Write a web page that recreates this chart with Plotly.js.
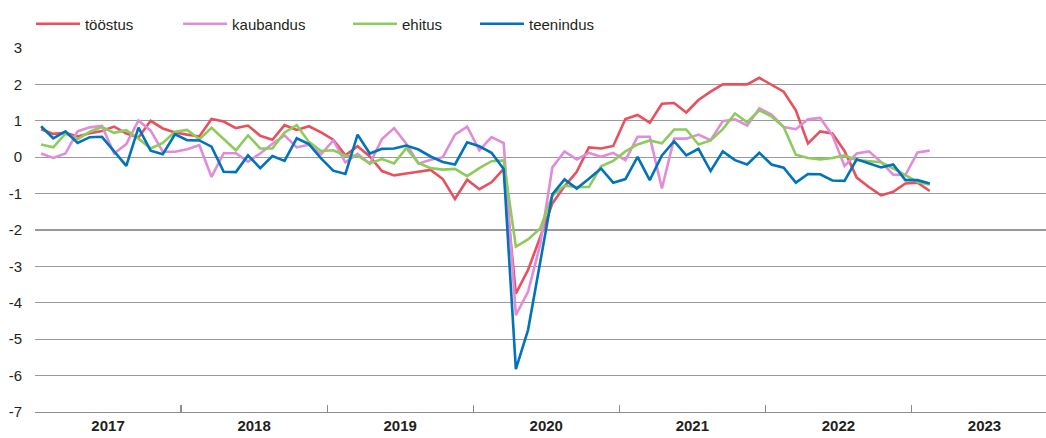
<!DOCTYPE html>
<html>
<head>
<meta charset="utf-8">
<script src="https://cdn.plot.ly/plotly-3.0.1.min.js"></script>
<style>
  html, body { margin: 0; padding: 0; background: #fff; }
  #chart { width: 1046px; height: 438px; }
</style>
</head>
<body>
<div id="chart"></div>
<script>
// Years shown on the x axis (each year = 12 monthly slots)
const years = ["2017", "2018", "2019", "2020", "2021", "2022", "2023"];

// Y tick values and labels (hyphen-minus as in the original)
const yTickVals = [3, 2, 1, 0, -1, -2, -3, -4, -5, -6, -7];
const yTickText = ["3", "2", "1", "0", "-1", "-2", "-3", "-4", "-5", "-6", "-7"];

// Series names
const seriesNames = ["tööstus", "kaubandus", "ehitus", "teenindus"];

// Monthly values, Jan 2017 – Feb 2023
const tooestus = [0.77,0.64,0.67,0.57,0.66,0.72,0.84,0.65,0.54,1.0,0.79,0.68,
  0.62,0.57,1.05,0.98,0.8,0.87,0.59,0.48,0.88,0.75,0.85,0.68,
  0.48,0.05,0.3,0.02,-0.38,-0.5,-0.45,-0.41,-0.35,-0.6,-1.15,-0.62,
  -0.88,-0.69,-0.32,-3.75,-3.1,-2.2,-1.27,-0.8,-0.4,0.27,0.24,0.31,
  1.05,1.16,0.95,1.47,1.49,1.23,1.57,1.8,2.0,2.0,2.0,2.18,
  2.0,1.8,1.29,0.38,0.71,0.65,0.17,-0.56,-0.82,-1.05,-0.95,-0.72,
  -0.7,-0.93];

const kaubandus = [0.1,-0.02,0.1,0.71,0.82,0.86,0.1,0.36,1.01,0.73,0.15,0.15,
  0.22,0.33,-0.54,0.11,0.11,-0.12,0.1,0.37,0.6,0.27,0.34,0.08,
  0.46,-0.14,0.09,-0.18,0.5,0.8,0.37,-0.18,-0.07,0.0,0.62,0.84,
  0.19,0.55,0.39,-4.34,-3.7,-2.4,-0.28,0.16,-0.06,0.12,0.01,0.12,
  -0.08,0.56,0.56,-0.86,0.51,0.51,0.62,0.47,0.99,1.04,0.87,1.34,
  1.17,0.83,0.77,1.04,1.08,0.6,-0.24,0.1,0.16,-0.13,-0.48,-0.49,
  0.13,0.18];

const ehitus = [0.35,0.27,0.65,0.49,0.7,0.83,0.67,0.74,0.51,0.24,0.39,0.7,
  0.75,0.49,0.81,0.51,0.19,0.6,0.24,0.24,0.68,0.88,0.42,0.17,
  0.19,0.04,0.04,-0.17,-0.05,-0.17,0.25,-0.16,-0.3,-0.34,-0.32,-0.52,
  -0.3,-0.11,-0.09,-2.46,-2.26,-1.96,-1.05,-0.78,-0.82,-0.82,-0.25,-0.1,
  0.16,0.35,0.46,0.38,0.76,0.76,0.35,0.46,0.77,1.2,0.96,1.29,
  1.12,0.83,0.07,-0.02,-0.06,-0.02,0.05,-0.08,-0.1,-0.14,-0.31,-0.49,
  -0.68,-0.75];

const teenindus = [0.85,0.52,0.71,0.39,0.55,0.56,0.16,-0.24,0.81,0.18,0.08,0.63,
  0.47,0.46,0.29,-0.4,-0.41,0.05,-0.3,0.03,-0.1,0.52,0.36,-0.03,
  -0.37,-0.46,0.62,0.1,0.23,0.24,0.32,0.21,0.02,-0.13,-0.2,0.41,
  0.3,0.12,-0.32,-5.82,-4.75,-2.9,-1.02,-0.61,-0.86,-0.59,-0.31,-0.7,
  -0.6,0.01,-0.63,0.05,0.44,0.05,0.23,-0.38,0.16,-0.08,-0.2,0.12,
  -0.2,-0.29,-0.7,-0.46,-0.47,-0.64,-0.65,-0.06,-0.17,-0.28,-0.2,-0.63,
  -0.63,-0.72];

const colors = ["#E8505E", "#E08CD8", "#8DCB5C", "#0073BA"];
const seriesValues = [tooestus, kaubandus, ehitus, teenindus];

// month slot index (0 = Jan 2017)
const monthIndex = tooestus.map((_, i) => i);

const legendIds = ["legend", "legend2", "legend3", "legend4"];
const legendX = [-0.004, 0.1415, 0.3096, 0.4352];

const traces = seriesValues.map((vals, k) => ({
  type: "scatter",
  mode: "lines",
  name: seriesNames[k],
  legend: legendIds[k],
  x: monthIndex,
  y: vals,
  line: { color: colors[k], width: 2.6 },
  hoverinfo: "skip"
}));

// invisible trace on xaxis2 to carry the year labels axis
traces.push({
  type: "scatter", mode: "lines", x: [0], y: [0], xaxis: "x2",
  showlegend: false, hoverinfo: "skip", line: { color: "rgba(0,0,0,0)" }
});

const yearBounds = years.map((_, k) => k * 12 - 0.5);
const yearCenters = years.map((_, k) => k * 12 + 5.5);
const xRange = [-0.5, 82.55];

const font = "Liberation Sans, Arial, Helvetica, sans-serif";

const layout = {
  width: 1046,
  height: 438,
  margin: { l: 35, r: 0, t: 47.7, b: 26.3, pad: 0 },
  paper_bgcolor: "#fff",
  plot_bgcolor: "#fff",
  font: { family: font, size: 15, color: "#231F20" },
  showlegend: true,
  xaxis: {
    type: "linear",
    range: xRange,
    tickmode: "array",
    tickvals: yearBounds,
    ticktext: yearBounds.map(() => ""),
    ticks: "inside",
    ticklen: 7,
    tickwidth: 1.2,
    tickcolor: "#8C8C8C",
    showline: true,
    linecolor: "#8C8C8C",
    linewidth: 1.4,
    showgrid: false,
    zeroline: false,
    fixedrange: true
  },
  xaxis2: {
    type: "linear",
    overlaying: "x",
    anchor: "y",
    side: "bottom",
    range: xRange,
    tickmode: "array",
    tickvals: yearCenters,
    ticktext: years,
    ticks: "",
    showline: false,
    showgrid: false,
    zeroline: false,
    tickfont: { family: font, size: 15, color: "#231F20", weight: "bold" },
    ticklabelstandoff: 3
  },
  yaxis: {
    range: [-7, 3],
    tickmode: "array",
    tickvals: yTickVals,
    ticktext: yTickText,
    showgrid: true,
    gridcolor: "#9A9A9A",
    gridwidth: 1.3,
    zeroline: false,
    showline: false,
    ticks: "outside",
    ticklen: 9,
    tickcolor: "rgba(0,0,0,0)",
    tickfont: { family: font, size: 15, color: "#231F20" },
    fixedrange: true
  }
};

legendIds.forEach((id, k) => {
  layout[id] = {
    orientation: "h",
    x: legendX[k], xanchor: "left",
    y: 1.066, yanchor: "middle",
    font: { family: font, size: 15, color: "#231F20" },
    itemwidth: 44,
    bgcolor: "rgba(0,0,0,0)"
  };
});

Plotly.newPlot("chart", traces, layout, { displayModeBar: false, staticPlot: true });
</script>
</body>
</html>
